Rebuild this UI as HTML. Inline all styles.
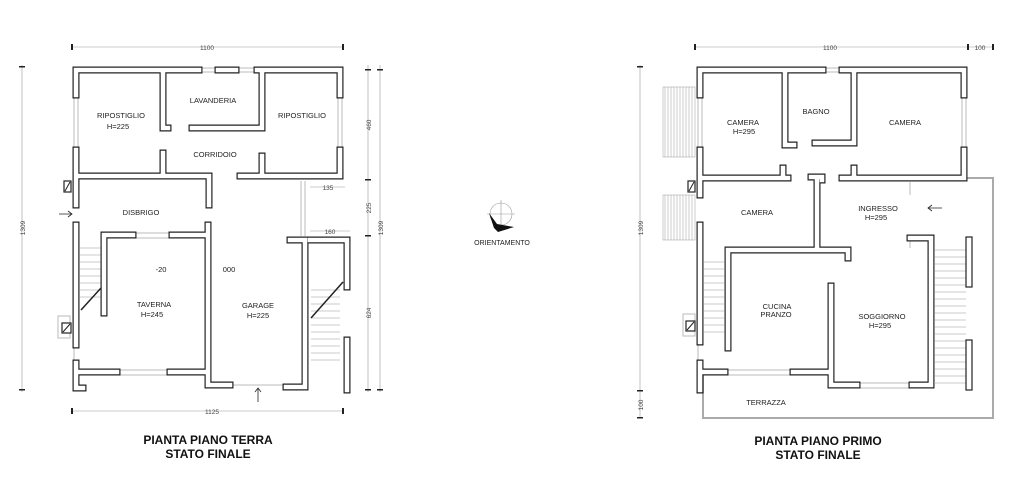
<!DOCTYPE html>
<html><head><meta charset="utf-8"><style>
html,body{margin:0;padding:0;background:#fff;}
svg{display:block;}
text{font-family:"Liberation Sans",sans-serif;fill:#222;}
.w1{fill:none;stroke:#222;stroke-width:7;stroke-linecap:square;stroke-linejoin:miter;}
.w2{fill:none;stroke:#fff;stroke-width:4.6;stroke-linecap:square;stroke-linejoin:miter;}
.g{fill:none;stroke:#bbb;stroke-width:1;}
.d{fill:none;stroke:#999;stroke-width:0.6;}
.lbl{font-size:7.5px;text-anchor:middle;}
.dim{font-size:6.5px;text-anchor:middle;fill:#444;}
.t{font-size:12px;font-weight:bold;text-anchor:middle;fill:#111;}
</style></head><body>
<svg width="1024" height="480" viewBox="0 0 1024 480" xmlns="http://www.w3.org/2000/svg">
<defs>
<g id="wallsL">
<path d="M199 70H76V95 M76 150V205 M218 70H236 M257 70H340V95 M340 150V176H240 M76 176H209V205 M163 73V128H168 M192 128H262 M262 73V128 M163 153V176 M262 156V176"/>
<path d="M76 225V345 M76 363V372H117 M76 372V388H83 M170 372H208 M104 313V235H133 M172 235H208 M208 225V385H230 M302 387H286 M305 387V240H290 M310 240H347V287 M347 340V390"/>
</g>
<g id="wallsR">
<path d="M823 70H700V95 M700 150V195 M842 70H964V95 M964 150V178H842 M854 178V168 M700 178H788 M783 178V168 M785 73V145H794 M815 143H854 M854 73V143 M811 177H822V180 M817 180V250H848V258 M817 250H728V348 M700 225V342 M700 363V372H725 M700 372V390 M793 372H831V385H857 M831 286V385 M912 385H931V238H910"/>
</g>
</defs>

<!-- LEFT PLAN -->
<g class="d">
<line x1="72" y1="47" x2="343" y2="47"/><line x1="72" y1="411" x2="343" y2="411"/>
<line x1="368" y1="65" x2="368" y2="392"/><line x1="380" y1="65" x2="380" y2="392"/>
<line x1="22" y1="65" x2="22" y2="392"/>
<line x1="310" y1="187" x2="345" y2="187"/><line x1="310" y1="231" x2="350" y2="231"/>
</g>
<g fill="#222">
<rect x="71" y="44" width="2" height="6"/><rect x="342" y="44" width="2" height="6"/>
<rect x="71" y="408" width="2" height="6"/><rect x="342" y="408" width="2" height="6"/>
<rect x="365" y="69" width="6" height="1.5"/><rect x="365" y="179" width="6" height="1.5"/><rect x="365" y="235" width="6" height="1.5"/><rect x="365" y="389" width="6" height="1.5"/>
<rect x="377" y="69" width="6" height="1.5"/><rect x="377" y="389" width="6" height="1.5"/>
<rect x="19" y="66" width="6" height="1.5"/><rect x="19" y="389" width="6" height="1.5"/>
</g>
<text class="dim" x="207" y="50">1100</text>
<text class="dim" x="212" y="414">1125</text>
<text class="dim" x="328" y="190">135</text>
<text class="dim" x="330" y="234">160</text>
<text class="dim" transform="translate(371,125) rotate(-90)">460</text>
<text class="dim" transform="translate(371,208) rotate(-90)">225</text>
<text class="dim" transform="translate(371,313) rotate(-90)">624</text>
<text class="dim" transform="translate(383,228) rotate(-90)">1309</text>
<text class="dim" transform="translate(25,228) rotate(-90)">1309</text>
<g class="g">
<path d="M199 68H218 M199 72H218 M236 68H257 M236 72H257 M74 95V150 M78 95V150 M338 97V150 M342 97V150 M301 181V236 M305 181V236 M117 370H170 M117 375H170 M133 233H172 M133 238H172 M230 385H286 M74 345V363"/>
<rect x="58" y="316" width="12" height="22"/>
</g>
<g stroke="#bbb" stroke-width="0.7">
<path d="M80 248H104 M80 255H104 M80 262H104 M80 269H104 M80 276H104 M80 283H104 M80 290H104 M80 297H104"/>
<path d="M311 290H340 M311 297H340 M311 304H340 M311 311H340 M311 318H340 M311 325H340 M311 332H340 M311 339H340 M311 346H340 M311 353H340 M311 360H340"/>
</g>
<line x1="81" y1="310" x2="101" y2="288" stroke="#222" stroke-width="1.5"/>
<line x1="311" y1="318" x2="343" y2="282" stroke="#222" stroke-width="1.5"/>
<use href="#wallsL" class="w1"/><use href="#wallsL" class="w2"/>
<rect x="64" y="181" width="7" height="11" fill="#fff" stroke="#222" stroke-width="1.2"/>
<line x1="65" y1="191" x2="70" y2="182" stroke="#222"/>
<rect x="62" y="323" width="9" height="10" fill="#fff" stroke="#222" stroke-width="1.2"/>
<line x1="63" y1="332" x2="70" y2="324" stroke="#222"/>
<path d="M59 214H72 M68 211L72 214L68 217" stroke="#222" fill="none" stroke-width="0.8"/>
<path d="M258 402V388 M255 392L258 388L261 392" stroke="#222" fill="none" stroke-width="0.8"/>
<text class="lbl" x="121" y="118">RIPOSTIGLIO</text>
<text class="lbl" x="118" y="129">H=225</text>
<text class="lbl" x="213" y="103">LAVANDERIA</text>
<text class="lbl" x="302" y="118">RIPOSTIGLIO</text>
<text class="lbl" x="215" y="157">CORRIDOIO</text>
<text class="lbl" x="141" y="215">DISBRIGO</text>
<text class="lbl" x="161" y="272">-20</text>
<text class="lbl" x="229" y="272">000</text>
<text class="lbl" x="154" y="307">TAVERNA</text>
<text class="lbl" x="152" y="317">H=245</text>
<text class="lbl" x="258" y="308">GARAGE</text>
<text class="lbl" x="258" y="318">H=225</text>
<text class="t" x="208" y="444">PIANTA PIANO TERRA</text>
<text class="t" x="208" y="458">STATO FINALE</text>

<!-- COMPASS -->
<g stroke="#999" stroke-width="0.6" fill="none">
<circle cx="501" cy="214" r="11"/><line x1="487" y1="214" x2="515" y2="214"/><line x1="501" y1="200" x2="501" y2="228"/>
</g>
<polygon points="489,213 497,224 514,227 498,232 494,228" fill="#111"/>
<text class="dim" x="502" y="245" style="font-size:7px;fill:#222">ORIENTAMENTO</text>

<!-- RIGHT PLAN -->
<g class="d">
<line x1="695" y1="47" x2="968" y2="47"/><line x1="968" y1="47" x2="993" y2="47"/>
<line x1="640" y1="65" x2="640" y2="390"/><line x1="640" y1="390" x2="640" y2="418"/>
</g>
<g fill="#222">
<rect x="694" y="44" width="2" height="6"/><rect x="967" y="44" width="2" height="6"/><rect x="992" y="44" width="2" height="6"/>
<rect x="637" y="66" width="6" height="1.5"/><rect x="637" y="390" width="6" height="1.5"/><rect x="637" y="417" width="6" height="1.5"/>
</g>
<text class="dim" x="830" y="50">1100</text>
<text class="dim" x="980" y="50">100</text>
<text class="dim" transform="translate(643,228) rotate(-90)">1309</text>
<text class="dim" transform="translate(643,405) rotate(-90)">100</text>
<path d="M928 178H993V418H703V375" stroke="#aaa" stroke-width="2" fill="none"/>
<g class="g">
<path d="M823 68H842 M823 72H842 M698 95V150 M702 95V150 M962 97V150 M966 97V150 M725 370H793 M725 375H793 M857 383H912 M857 388H912 M910 238V248 M910 182V195 M698 342V363"/>
<rect x="683" y="314" width="12" height="22"/>
</g>
<g stroke="#999" stroke-width="0.5">
<rect x="663" y="87" width="32" height="70" fill="none"/>
<rect x="663" y="195" width="32" height="45" fill="none"/>
<path d="M665 87V157 M668 87V157 M671 87V157 M674 87V157 M677 87V157 M680 87V157 M683 87V157 M686 87V157 M689 87V157 M692 87V157"/>
<path d="M665 195V240 M668 195V240 M671 195V240 M674 195V240 M677 195V240 M680 195V240 M683 195V240 M686 195V240 M689 195V240 M692 195V240"/>
</g>
<g stroke="#bbb" stroke-width="0.7">
<path d="M704 262H724 M704 269H724 M704 276H724 M704 283H724 M704 290H724 M704 297H724 M704 304H724 M704 311H724 M704 318H724 M704 325H724 M704 332H724"/>
<path d="M935 250H966 M935 257H966 M935 264H966 M935 271H966 M935 278H966 M935 285H966 M935 292H966 M935 299H966 M935 306H966 M935 313H966 M935 320H966 M935 327H966 M935 334H966 M935 341H966 M935 348H966 M935 355H966 M935 362H966 M935 369H966 M935 376H966 M935 383H966"/>
</g>
<rect x="966" y="237" width="6" height="50" fill="#fff" stroke="#222" stroke-width="1.2"/>
<rect x="966" y="340" width="6" height="50" fill="#fff" stroke="#222" stroke-width="1.2"/>
<use href="#wallsR" class="w1"/><use href="#wallsR" class="w2"/>
<rect x="688" y="181" width="7" height="11" fill="#fff" stroke="#222" stroke-width="1.2"/>
<line x1="689" y1="191" x2="694" y2="182" stroke="#222"/>
<rect x="686" y="321" width="9" height="10" fill="#fff" stroke="#222" stroke-width="1.2"/>
<line x1="687" y1="330" x2="694" y2="322" stroke="#222"/>
<path d="M942 208H928 M932 205L928 208L932 211" stroke="#222" fill="none" stroke-width="0.8"/>
<text class="lbl" x="743" y="125">CAMERA</text>
<text class="lbl" x="744" y="134">H=295</text>
<text class="lbl" x="816" y="114">BAGNO</text>
<text class="lbl" x="905" y="125">CAMERA</text>
<text class="lbl" x="757" y="215">CAMERA</text>
<text class="lbl" x="878" y="211">INGRESSO</text>
<text class="lbl" x="876" y="220">H=295</text>
<text class="lbl" x="777" y="309">CUCINA</text>
<text class="lbl" x="776" y="317">PRANZO</text>
<text class="lbl" x="882" y="319">SOGGIORNO</text>
<text class="lbl" x="880" y="328">H=295</text>
<text class="lbl" x="766" y="405">TERRAZZA</text>
<text class="t" x="818" y="445">PIANTA PIANO PRIMO</text>
<text class="t" x="818" y="459">STATO FINALE</text>
</svg>
</body></html>
